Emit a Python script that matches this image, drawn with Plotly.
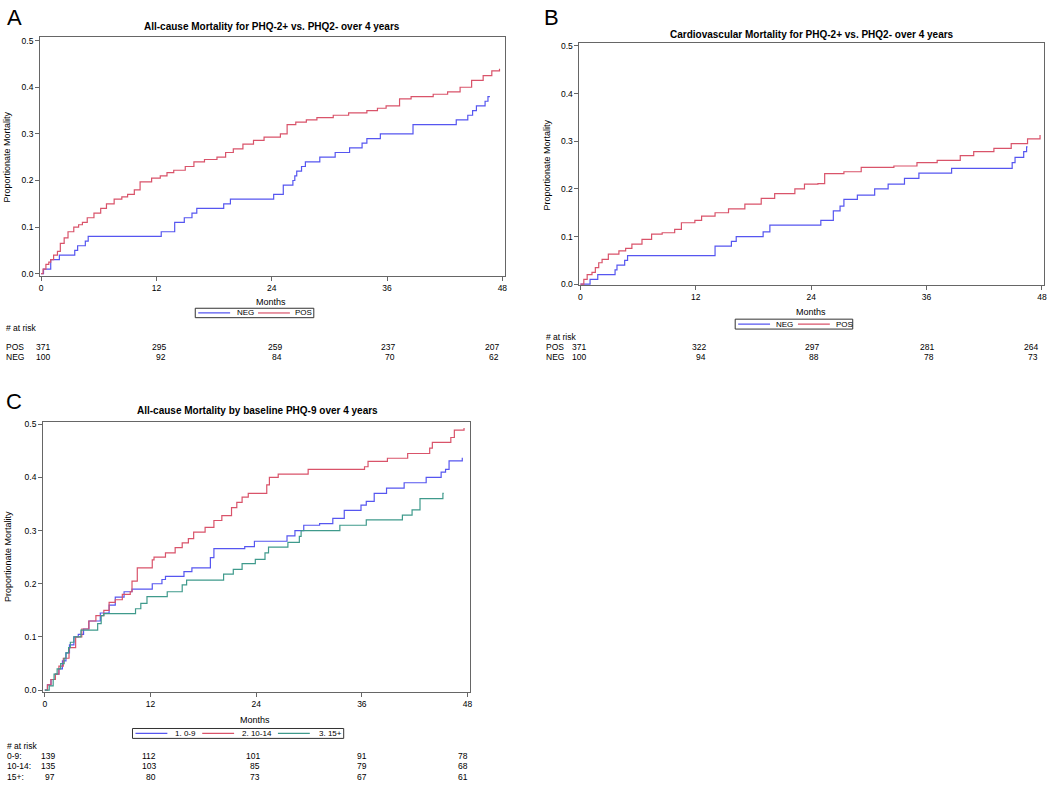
import plotly.graph_objects as go

W, H = 1050, 787

# ---------------- data ----------------
month_ticks = [0, 12, 24, 36, 48]

# Panel A: all-cause mortality, PHQ-2
a_neg_t = [0, 0.25, 1.0, 1.9, 3.5, 3.8, 4.6, 4.9, 12.5, 13.9, 14.9, 15.7, 16.2, 19.0, 19.7, 24.2, 25.2,
           26.2, 26.4, 26.6, 27.1, 27.5, 29.0, 30.6, 32.1, 33.4, 33.9, 35.3, 38.7, 43.2, 44.4, 44.9,
           45.3, 46.2, 46.5, 46.7]
a_neg_v = [0, 0.01, 0.03, 0.04, 0.05, 0.06, 0.07, 0.08, 0.09, 0.11, 0.12, 0.13, 0.14, 0.15, 0.16, 0.17,
           0.19, 0.20, 0.21, 0.22, 0.23, 0.24, 0.25, 0.26, 0.27, 0.28, 0.29, 0.30, 0.32, 0.33, 0.34,
           0.35, 0.36, 0.37, 0.38, 0.38]
a_pos_t = [0, 0.2, 0.5, 0.8, 1.0, 1.3, 1.7, 2.0, 2.4, 2.8, 3.4, 3.9, 4.3, 4.8, 5.5, 6.2, 6.8, 7.6, 8.4,
           9.0, 9.7, 10.3, 11.5, 12.4, 13.1, 13.8, 15.0, 15.9, 17.0, 18.3, 19.2, 20.0, 21.0, 22.1,
           23.2, 24.9, 25.6, 26.5, 27.6, 28.7, 30.4, 32.0, 33.9, 35.0, 35.9, 37.3, 38.5, 40.8, 42.3,
           43.6, 44.8, 46.0, 46.9, 47.7]
a_pos_v = [0, 0.01, 0.02, 0.025, 0.03, 0.04, 0.048, 0.065, 0.077, 0.09, 0.10, 0.105, 0.11, 0.12, 0.13,
           0.14, 0.15, 0.16, 0.165, 0.17, 0.18, 0.197, 0.205, 0.21, 0.217, 0.222, 0.23, 0.24, 0.245,
           0.25, 0.26, 0.268, 0.278, 0.286, 0.293, 0.30, 0.32, 0.325, 0.33, 0.335, 0.34, 0.345, 0.35,
           0.355, 0.36, 0.375, 0.38, 0.385, 0.39, 0.40, 0.415, 0.425, 0.435, 0.44]

# Panel B: cardiovascular mortality, PHQ-2
b_neg_t = [0, 1.0, 1.8, 3.6, 3.8, 4.6, 4.9, 14.0, 15.7, 16.2, 19.0, 19.7, 25.0, 26.3, 27.0, 27.4, 28.8,
           30.6, 32.0, 33.7, 35.2, 38.6, 44.9, 45.2, 46.1, 46.4, 46.5]
b_neg_v = [0, 0.01, 0.02, 0.03, 0.04, 0.05, 0.06, 0.08, 0.09, 0.10, 0.11, 0.124, 0.134, 0.154, 0.164,
           0.178, 0.187, 0.20, 0.21, 0.222, 0.233, 0.243, 0.255, 0.266, 0.278, 0.288, 0.288]
b_pos_t = [0, 0.35, 0.7, 1.2, 1.55, 1.9, 2.25, 2.9, 4.0, 4.7, 5.35, 6.4, 7.4, 8.5, 9.8, 10.5, 11.9, 12.6,
           14.0, 15.4, 17.1, 18.8, 20.2, 22.3, 23.3, 24.7, 25.4, 27.4, 29.2, 32.6, 35.0, 37.1, 39.5,
           40.9, 43.0, 44.8, 46.5, 47.8]
b_pos_v = [0, 0.01, 0.02, 0.025, 0.035, 0.045, 0.052, 0.063, 0.07, 0.075, 0.084, 0.094, 0.105, 0.108,
           0.115, 0.129, 0.134, 0.143, 0.15, 0.158, 0.168, 0.18, 0.19, 0.20, 0.21, 0.211, 0.232, 0.236,
           0.245, 0.248, 0.255, 0.26, 0.27, 0.278, 0.285, 0.295, 0.305, 0.313]

# Panel C: all-cause mortality by baseline PHQ-9
c_g1_t = [0, 0.3, 0.7, 1.2, 1.6, 2.0, 2.4, 2.8, 3.3, 3.8, 4.4, 5.0, 6.3, 7.3, 8.0, 9.0, 9.9, 12.2, 13.3,
          13.7, 15.8, 16.7, 18.8, 19.2, 22.7, 23.8, 27.5, 28.4, 29.4, 31.2, 32.7, 34.0, 35.9, 36.5,
          37.4, 38.8, 40.8, 43.3, 45.0, 45.5, 45.9, 47.4]
c_g1_v = [0, 0.01, 0.02, 0.03, 0.04, 0.055, 0.07, 0.085, 0.10, 0.105, 0.115, 0.13, 0.145, 0.16, 0.175,
          0.185, 0.19, 0.20, 0.208, 0.214, 0.223, 0.23, 0.249, 0.266, 0.27, 0.28, 0.29, 0.30, 0.31,
          0.313, 0.323, 0.338, 0.348, 0.355, 0.37, 0.38, 0.39, 0.40, 0.41, 0.415, 0.431, 0.437]
c_g2_t = [0, 0.3, 0.7, 1.2, 1.6, 2.1, 2.75, 3.5, 4.2, 5.0, 5.8, 6.7, 7.3, 8.0, 8.8, 9.7, 9.9, 10.5, 12.2,
          12.4, 13.7, 14.8, 15.6, 16.3, 16.9, 18.2, 19.2, 20.1, 21.2, 21.8, 22.4, 23.1, 25.2, 25.5,
          26.5, 29.9, 36.3, 36.7, 38.9, 41.2, 43.7, 44.0, 46.1, 46.5, 47.6]
c_g2_v = [0, 0.01, 0.02, 0.03, 0.045, 0.06, 0.08, 0.10, 0.115, 0.13, 0.14, 0.15, 0.165, 0.17, 0.18,
          0.185, 0.205, 0.23, 0.245, 0.25, 0.258, 0.268, 0.277, 0.285, 0.297, 0.306, 0.319, 0.328,
          0.343, 0.353, 0.363, 0.37, 0.386, 0.40, 0.406, 0.415, 0.42, 0.43, 0.436, 0.445, 0.455,
          0.466, 0.475, 0.489, 0.493]
c_g3_t = [0, 0.5, 0.95, 1.05, 1.4, 1.8, 2.2, 2.4, 2.7, 2.9, 3.3, 4.1, 6.0, 6.4, 6.7, 10.3, 10.9, 11.6,
          13.9, 15.6, 16.1, 20.3, 21.4, 22.4, 23.9, 25.0, 25.4, 27.6, 28.9, 29.1, 33.5, 36.5, 40.6,
          41.7, 42.6, 45.2, 45.3]
c_g3_v = [0, 0.008, 0.02, 0.03, 0.04, 0.05, 0.06, 0.07, 0.08, 0.09, 0.10, 0.113, 0.125, 0.14, 0.144,
          0.153, 0.163, 0.176, 0.185, 0.198, 0.207, 0.218, 0.227, 0.238, 0.246, 0.258, 0.269, 0.278,
          0.289, 0.30, 0.31, 0.32, 0.329, 0.339, 0.36, 0.37, 0.37]

# Numbers at risk
a_risk = {"POS": [371, 295, 259, 237, 207], "NEG": [100, 92, 84, 70, 62]}
b_risk = {"POS": [371, 322, 297, 281, 264], "NEG": [100, 94, 88, 78, 73]}
c_risk = {"0-9:": [139, 112, 101, 91, 78], "10-14:": [135, 103, 85, 79, 68], "15+:": [97, 80, 73, 67, 61]}

a_title = "All-cause Mortality for PHQ-2+ vs. PHQ2- over 4 years"
b_title = "Cardiovascular Mortality for PHQ-2+ vs. PHQ2- over 4 years"
c_title = "All-cause Mortality by baseline PHQ-9 over 4 years"

# ---------------- style ----------------
BLUE = "#5656f0"
RED = "#d9536a"
GREEN = "#3f9a8c"
FONT = "Liberation Sans, Arial, sans-serif"
AXCOL = "#666666"


def px(x):
    return x / W


def py(y):
    return 1 - y / H


panels = [
    dict(key="", letter="A", letter_xy=(4, 15), title=a_title, title_xy=(272, 24),
         xdom=(39.3, 506), ydom=(34, 275), xr=[-0.1, 48.28], yr=[-0.004, 0.5085],
         series=[("NEG", a_neg_t, a_neg_v, BLUE), ("POS", a_pos_t, a_pos_v, RED)],
         legend_box=(195, 314, 308, 317.5), legend_lines=[198, 258], legend_texts=[235, 293],
         months_xy=(271, 302), ytitle_xy=(6, 155),
         risk=a_risk, risk_head_y=328, risk_rows_y=[347, 357], risk_label_x=3,
         risk_shift=[11, 12, 12, 10, -1]),
    dict(key="2", letter="B", letter_xy=(543, 15), title=b_title, title_xy=(814, 32),
         xdom=(580.7, 1046.5), ydom=(40.7, 284.7), xr=[-0.1, 48.16], yr=[-0.002, 0.5054],
         series=[("NEG", b_neg_t, b_neg_v, BLUE), ("POS", b_pos_t, b_pos_v, RED)],
         legend_box=(737, 855, 319, 329), legend_lines=[740, 800], legend_texts=[776, 836],
         months_xy=(813, 312), ytitle_xy=(548, 163),
         risk=b_risk, risk_head_y=337, risk_rows_y=[347, 357], risk_label_x=545,
         risk_shift=[8, 12, 10, 9, -2]),
    dict(key="3", letter="C", letter_xy=(3, 402), title=c_title, title_xy=(257, 411),
         xdom=(42.3, 471), ydom=(422.7, 694.7), xr=[-0.19, 48.3], yr=[-0.0026, 0.5043],
         series=[("1. 0-9", c_g1_t, c_g1_v, BLUE), ("2. 10-14", c_g2_t, c_g2_v, RED),
                 ("3. 15+", c_g3_t, c_g3_v, GREEN)],
         legend_box=(132, 344, 732, 742), legend_lines=[135, 202, 278], legend_texts=[173, 240, 317],
         months_xy=(255, 723), ytitle_xy=(7, 558),
         risk=c_risk, risk_head_y=750, risk_rows_y=[760, 770, 781], risk_label_x=4,
         risk_shift=[12, 8, 6, 7, 2]),
]

fig = go.Figure()
annotations = []
shapes = []
layout = dict(width=W, height=H, margin=dict(l=0, r=0, t=0, b=0),
              paper_bgcolor="white", plot_bgcolor="white",
              font=dict(family=FONT, size=9, color="black"), showlegend=False)

for p in panels:
    k = p["key"]
    xa, ya = "x" + k, "y" + k
    for name, t, v, col in p["series"]:
        fig.add_trace(go.Scatter(x=t, y=v, mode="lines", name=name, line=dict(color=col, width=1.2, shape="hv"),
                                 xaxis=xa, yaxis=ya, hoverinfo="skip"))
    layout["xaxis" + k] = dict(domain=[px(p["xdom"][0]), px(p["xdom"][1])], range=p["xr"], anchor=ya,
                               tickvals=month_ticks, ticks="outside", ticklen=4, tickcolor=AXCOL,
                               showline=True, linecolor=AXCOL, linewidth=1, mirror=True,
                               showgrid=False, zeroline=False, tickfont=dict(size=8.5))
    layout["yaxis" + k] = dict(domain=[py(p["ydom"][1]), py(p["ydom"][0])], range=p["yr"], anchor=xa,
                               tick0=0, dtick=0.1, tickformat=".1f", ticks="outside", ticklen=4,
                               tickcolor=AXCOL, showline=True, linecolor=AXCOL, linewidth=1, mirror=True,
                               showgrid=False, zeroline=False, tickfont=dict(size=8.5))
    # legend box (framed key below the axis)
    bx0, bx1, by0, by1 = p["legend_box"]
    yc = (by0 + by1) / 2
    shapes.append(dict(type="rect", xref="paper", yref="paper", x0=px(bx0), x1=px(bx1),
                       y0=py(by1), y1=py(by0), line=dict(color="#333333", width=1), fillcolor="white"))
    for (name, t, v, col), lx, tx in zip(p["series"], p["legend_lines"], p["legend_texts"]):
        shapes.append(dict(type="line", xref="paper", yref="paper", x0=px(lx), x1=px(lx + 32),
                           y0=py(yc), y1=py(yc), line=dict(color=col, width=1.2)))
        annotations.append(dict(text=name, x=px(tx), y=py(yc), xref="paper", yref="paper",
                                xanchor="left", yanchor="middle", showarrow=False, font=dict(size=8)))
    # panel letter and title
    annotations.append(dict(text=p["letter"], x=px(p["letter_xy"][0]), y=py(p["letter_xy"][1]),
                            xref="paper", yref="paper", xanchor="left", yanchor="middle",
                            showarrow=False, font=dict(size=22)))
    annotations.append(dict(text="<b>" + p["title"] + "</b>", x=px(p["title_xy"][0]), y=py(p["title_xy"][1]),
                            xref="paper", yref="paper", xanchor="center", yanchor="middle",
                            showarrow=False, font=dict(size=10)))
    # axis titles
    annotations.append(dict(text="Months", x=px(p["months_xy"][0]), y=py(p["months_xy"][1]),
                            xref="paper", yref="paper", xanchor="center", yanchor="middle",
                            showarrow=False, font=dict(size=9)))
    annotations.append(dict(text="Proportionate Mortality", x=px(p["ytitle_xy"][0]), y=py(p["ytitle_xy"][1]),
                            xref="paper", yref="paper", xanchor="center", yanchor="middle", textangle=-90,
                            showarrow=False, font=dict(size=9)))
    # numbers at risk
    annotations.append(dict(text="# at risk", x=px(p["risk_label_x"]), y=py(p["risk_head_y"]),
                            xref="paper", yref="paper", xanchor="left", yanchor="middle",
                            showarrow=False, font=dict(size=8.5)))
    for (label, counts), ry in zip(p["risk"].items(), p["risk_rows_y"]):
        annotations.append(dict(text=label, x=px(p["risk_label_x"]), y=py(ry), xref="paper", yref="paper",
                                xanchor="left", yanchor="middle", showarrow=False, font=dict(size=8.5)))
        for m, c, sh in zip(month_ticks, counts, p["risk_shift"]):
            annotations.append(dict(text=str(c), x=m, y=py(ry), xref=xa, yref="paper", xanchor="right",
                                    yanchor="middle", xshift=sh, showarrow=False, font=dict(size=8.5)))

layout["annotations"] = annotations
layout["shapes"] = shapes
fig.update_layout(**layout)
fig.write_html("out.html", config={"displayModeBar": False, "staticPlot": True},
               post_script="document.body.style.margin='0';document.body.style.overflow='hidden';")
